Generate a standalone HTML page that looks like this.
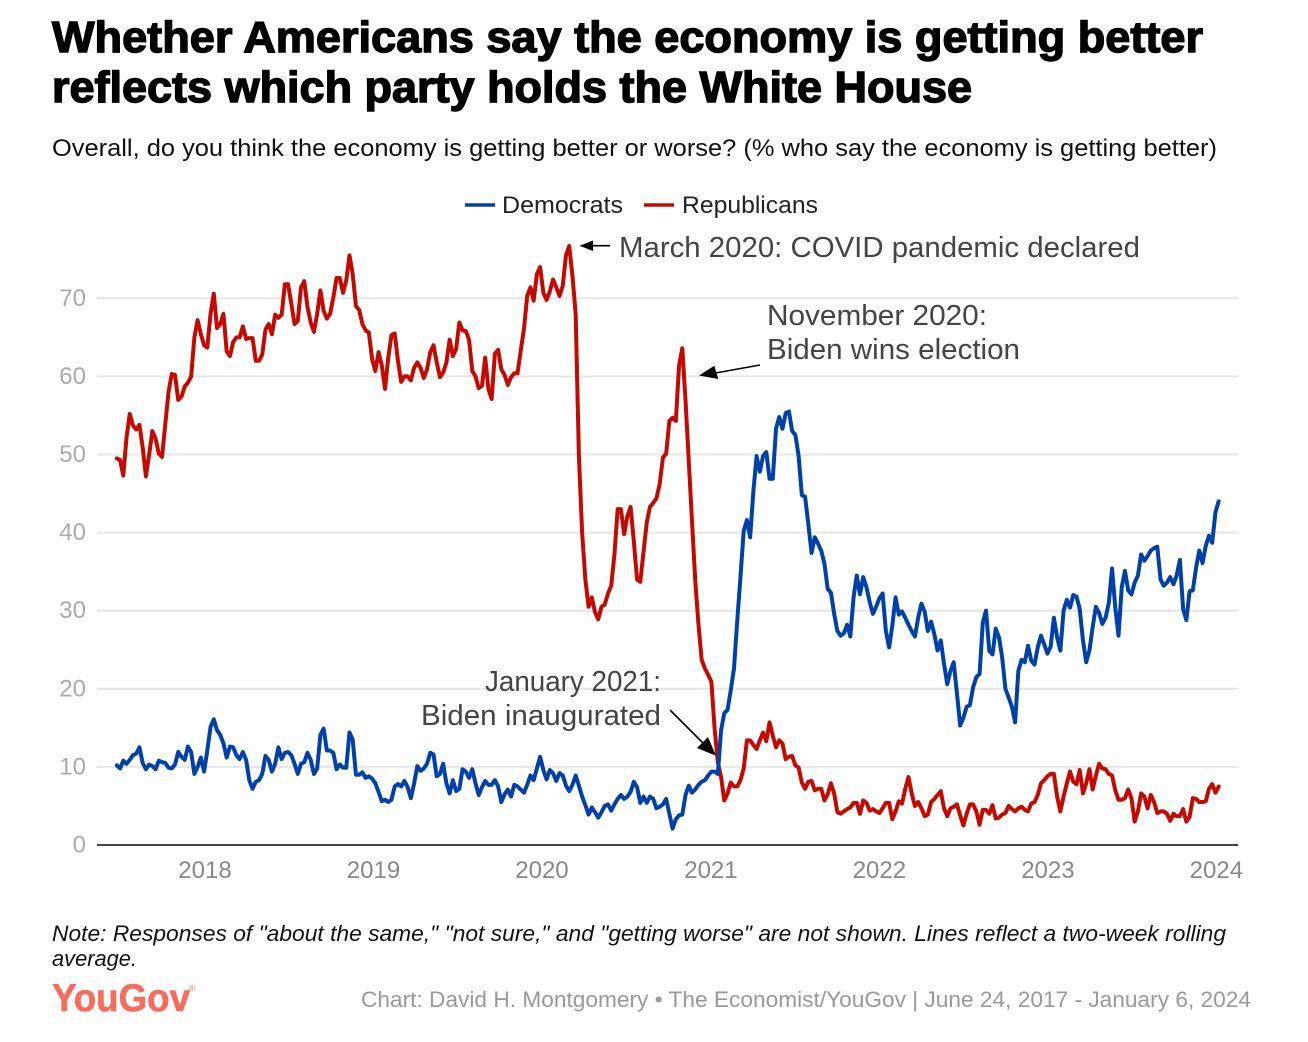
<!DOCTYPE html>
<html lang="en">
<head>
<meta charset="utf-8">
<title>Whether Americans say the economy is getting better</title>
<style>
html,body{margin:0;padding:0;background:#fff;width:1308px;height:1042px;overflow:hidden}
svg{display:block}
text{font-family:"Liberation Sans",Arial,sans-serif}
</style>
</head>
<body>
<svg id="chart" xmlns="http://www.w3.org/2000/svg" width="1308" height="1042" viewBox="0 0 1308 1042">
  <rect width="1308" height="1042" fill="#fff"/>
  <text x="52" y="52" font-size="44" font-weight="700" fill="#000" stroke="#000" stroke-width="1.4" textLength="1151" lengthAdjust="spacingAndGlyphs">Whether Americans say the economy is getting better</text>
  <text x="52" y="102" font-size="44" font-weight="700" fill="#000" stroke="#000" stroke-width="1.4" textLength="920" lengthAdjust="spacingAndGlyphs">reflects which party holds the White House</text>
  <text x="52" y="156" font-size="24" fill="#111" textLength="1165" lengthAdjust="spacingAndGlyphs">Overall, do you think the economy is getting better or worse? (% who say the economy is getting better)</text>

  <g>
    <line x1="465" y1="205" x2="495" y2="205" stroke="#0041a8" stroke-width="3.5"/>
    <text x="502" y="213" font-size="24" fill="#222" textLength="121" lengthAdjust="spacingAndGlyphs">Democrats</text>
    <line x1="644" y1="205" x2="674" y2="205" stroke="#c40a00" stroke-width="3.5"/>
    <text x="682" y="213" font-size="24" fill="#222" textLength="136" lengthAdjust="spacingAndGlyphs">Republicans</text>
  </g>

  <g id="grid"></g>
  <g id="yLabels"></g>
  <g id="xLabels"></g>
  <line x1="97" y1="845" x2="1238" y2="845" stroke="#444" stroke-width="2"/>
  <path id="repLine" fill="none" stroke="#c40a00" stroke-width="4" stroke-linejoin="round" stroke-linecap="round"/>
  <path id="demLine" fill="none" stroke="#0041a8" stroke-width="4" stroke-linejoin="round" stroke-linecap="round"/>

  <g>
    <line x1="610" y1="245.7" x2="590" y2="245.7" stroke="#000" stroke-width="1.6"/>
    <polygon points="579.5,245.7 593,240.5 593,251" fill="#000"/>
    <text x="619" y="257" font-size="29" fill="#444" textLength="521" lengthAdjust="spacingAndGlyphs">March 2020: COVID pandemic declared</text>
  </g>
  <g>
    <line x1="760" y1="365" x2="712" y2="373.6" stroke="#000" stroke-width="1.6"/>
    <polygon points="699,375.5 714.3,365.7 718.3,379" fill="#000"/>
    <text x="767" y="325" font-size="29" fill="#444" textLength="220" lengthAdjust="spacingAndGlyphs">November 2020:</text>
    <text x="767" y="359" font-size="29" fill="#444" textLength="253" lengthAdjust="spacingAndGlyphs">Biden wins election</text>
  </g>
  <g>
    <line x1="670" y1="710" x2="706" y2="746" stroke="#000" stroke-width="1.6"/>
    <polygon points="716,755.7 697,748 708,737" fill="#000"/>
    <text x="485" y="691" font-size="29" fill="#444" textLength="176" lengthAdjust="spacingAndGlyphs">January 2021:</text>
    <text x="421" y="725" font-size="29" fill="#444" textLength="240" lengthAdjust="spacingAndGlyphs">Biden inaugurated</text>
  </g>

  <text x="52" y="941" font-size="22" font-style="italic" fill="#111" textLength="1174" lengthAdjust="spacingAndGlyphs">Note: Responses of "about the same," "not sure," and "getting worse" are not shown. Lines reflect a two-week rolling</text>
  <text x="52" y="966" font-size="22" font-style="italic" fill="#111" textLength="85" lengthAdjust="spacingAndGlyphs">average.</text>
  <text x="52" y="1011" font-size="39" font-weight="700" fill="#f96b5d" stroke="#f96b5d" stroke-width="0.6" textLength="138" lengthAdjust="spacingAndGlyphs">YouGov</text>
  <text x="189" y="991" font-size="8" fill="#f96b5d">®</text>
  <text x="361" y="1007" font-size="22" fill="#999" textLength="890" lengthAdjust="spacingAndGlyphs">Chart: David H. Montgomery • The Economist/YouGov | June 24, 2017 - January 6, 2024</text>
</svg>
<script>
var startDate = "2017-06-24";
var weekStep = 7;
var yTicks = [0, 10, 20, 30, 40, 50, 60, 70];
var xTicks = [2018, 2019, 2020, 2021, 2022, 2023, 2024];
var repValues = [
49.5,49.3,47.3,52.2,55.2,53.7,53.2,53.8,50.9,47.2,
50,53,52,50.1,49.7,53.9,58,60.3,60.2,57,
57.4,58.7,59.2,60,65,67.2,65.4,64,63.7,68,
70.6,66.2,66.7,68,63.2,62.6,64.4,65,65,66.4,
64.8,64.9,64.9,62,62,62.8,66,66.7,65.4,67.9,
67.5,67.9,71.8,71.8,69.3,66.7,67.1,71.4,72.2,68.9,
66.9,65.7,68,71,68.4,67.4,68,70.1,72.6,72.6,
70.7,72.3,75.5,73.1,69,68.5,66.7,65.9,65.6,62.2,
60.7,63.1,61.4,58.4,62.4,
65.3,65.5,62,59.3,60,60,59.5,61.1,61.8,61.1,
59.8,60.9,63.1,64,61.8,59.9,60.5,61.8,64.7,62.6,
63.5,66.9,65.9,65.8,64.7,60.7,60,58.5,58.8,62.4,
58.4,57.1,62.9,63.4,60.9,60.2,58.9,59.9,60.4,60.4,
63.3,66.1,70.3,71.4,69.7,73.1,74,70.7,69.8,70.9,
72.4,71.4,70.3,71.6,75.5,76.7,72.9,68,
49.8,40,34,30.5,31.7,29.8,28.9,30.5,30.8,32.2,33.2,
37.2,43,43,39.8,42.1,43.3,38.9,34,33.7,37.5,
41.3,43.3,43.8,44.4,46.2,49.6,50.1,54.3,54.7,54.3,
61.4,63.6,56.9,49.2,41.5,33.9,28.3,23.7,22.6,21.8,
20.9,14.9,10.6,8.7,5.7,
6.6,8,7.5,7.5,8.3,9.8,13.4,13.4,12.8,12.3,
13.4,14.4,13.3,15.7,14,12.5,13.4,13,11,11.3,
11.4,10.2,9.9,8,7.2,8.1,8.2,7,7.2,7.2,
5.7,6.5,7.9,6.6,4.2,4,4.3,4.6,4.8,5.4,
5.4,4,5.7,5.4,4.4,4.6,4.3,4.1,4.7,5.4,
5.4,3.3,4.3,5.6,5.3,7.2,8.7,6.6,5,5.5,
4.7,3.7,3.9,5.5,5.9,6.4,6.9,4.7,3.7,4.7,
4.9,5.2,3.8,2.5,4,5.2,5.2,4.3,2.6,
4.5,4.5,4,5.1,3.4,3.5,3.9,4.1,5,4.6,
4.3,4.7,4.9,4.5,4.3,5.3,5.5,6.4,7.9,8.3,
8.8,9.1,9.1,6.2,4.3,6.2,7.9,9.4,8.1,7.8,
9.6,6.6,7.9,9.7,7.1,8.9,10.4,9.8,9.7,9.1,
8.9,7,5.8,5.8,6,7.1,6,3,4.3,6.6,
6.2,4.7,6.4,5.5,4.1,4.3,4.3,4,3.1,4,
3.7,3.7,4.6,3,3.6,6,5.9,5.5,5.5,5.6,
7.2,7.8,6.7,7.5
];
var demValues = [
10.2,9.8,10.8,10.4,10.9,11.5,11.7,12.5,10.5,9.7,
10.3,10.1,9.7,10.8,10.6,10.5,9.9,9.8,10.3,11.9,
11.3,10.9,12.6,11.9,9.1,10,11.2,9.4,12.1,15.1,
16.1,14.7,14.1,13,11.2,12.6,12.5,11.5,11,11.9,
10.9,8.3,7.2,8.1,8.3,9.1,11.4,10.9,9.4,10.4,
12.5,11,11.8,11.9,11.5,10.4,9.1,10.4,10.6,11.8,
10.9,9.1,9.8,14.1,14.9,12.1,12.1,11.8,9.7,10.3,
9.9,9.9,14.4,13.5,9,9,9.3,8.6,8.8,8.5,
7.9,6.8,5.6,5.8,5.5,5.8,7.5,7.8,7.5,8.2,
7.4,6,7.9,10.1,9.5,9.8,10.4,11.8,11.6,8.8,
9.1,10.4,7.9,6.6,8.3,6.9,7.2,9.7,9.4,8.6,
9.7,7.9,6.4,7.4,8.2,7.7,7.7,8.3,7.5,5.5,
6.5,7.1,6.2,7.7,7.5,7.1,6.7,7.7,8.9,8.3,
9.8,11.3,9.6,8.4,9.6,9.2,8.2,9.2,8.9,7.6,
6.9,7.7,8.9,7.6,6.2,5.1,3.9,4.8,4.2,3.5,
4.2,5,5.2,4.4,5.2,5.9,6.4,5.9,6.2,6.8,
8.1,7.4,5.4,6.2,5.4,6.2,5.9,4.7,4.9,5.2,
5.9,4,2.1,3.3,3.8,3.9,6.4,7.6,6.7,7.1,
7.7,8.1,8.3,8.9,9.4,9.4,9.1,14.7,16.9,17.3,
19.8,22.6,28.7,34.3,40.2,41.6,39.4,45.3,49.8,47.8,
49.8,50.3,46.9,46.9,53.3,54.8,53.3,55.3,55.5,53,
52.5,49.8,44.8,44.6,41.1,37.4,39.4,38.6,37.7,36,
32.8,32.3,29.6,27.4,26.8,27.1,28.2,26.7,31.7,34.5,
32.1,34.3,33,31.1,29.6,30.5,31.6,32.2,27.4,25.3,
28.1,31.7,29.5,29.9,29.1,28.2,27.4,26.7,29.1,30.9,
29.9,27.4,28.6,27,24.9,26.2,23.2,20.6,22.3,23.4,
19.4,15.3,16.3,17.7,17.9,20.2,21.5,21.9,28.5,30,
24.9,24.4,27.7,26.6,24,20,18.9,17.7,15.7,22.3,
23.7,23.4,25.5,23.6,23.1,25.3,26.8,25.7,24.5,25.4,
29.1,26.6,24.9,30,31.4,30.4,32,31.8,30.2,26.2,
23.4,24.9,27.9,30.5,29.7,28.3,29.1,31,35.4,30.4,
26.8,33,35.1,32.6,32.1,33.6,34.5,37.2,36.4,37,
37.7,38,38.2,34,33.2,33.6,34.3,33.4,34.5,36.5,
30.2,28.8,32.5,32.6,35.5,37.7,36.1,38.3,39.6,38.7,
42.6,44
];

var SVGNS = "http://www.w3.org/2000/svg";
var MS_PER_DAY = 86400000;

function yScale(v) {
  return 845 - v * 7.81;
}
function xScale(ms) {
  var origin = Date.UTC(2018, 0, 1);
  return 205 + (ms - origin) / (365.25 * MS_PER_DAY) * 168.6;
}
function weekToMs(i) {
  return Date.parse(startDate + "T00:00:00Z") + i * weekStep * MS_PER_DAY;
}
function linePath(values) {
  var d = "";
  for (var i = 0; i < values.length; i++) {
    d += (i ? "L" : "M") + xScale(weekToMs(i)).toFixed(2) + " " + yScale(values[i]).toFixed(2);
  }
  return d;
}

document.getElementById("repLine").setAttribute("d", linePath(repValues));
document.getElementById("demLine").setAttribute("d", linePath(demValues));

var gridGroup = document.getElementById("grid");
var yGroup = document.getElementById("yLabels");
yTicks.forEach(function (t) {
  if (t > 0) {
    var ln = document.createElementNS(SVGNS, "line");
    
    
    ln.setAttribute("x1", 97);
    ln.setAttribute("x2", 1238);
    ln.setAttribute("y1", yScale(t));
    ln.setAttribute("y2", yScale(t));
    ln.setAttribute("stroke", "#e6e6e6");
    ln.setAttribute("stroke-width", 2);
    gridGroup.appendChild(ln);
  }
  var lab = document.createElementNS(SVGNS, "text");
  
  
  lab.setAttribute("x", 86);
  lab.setAttribute("y", yScale(t) + 7.5);
  lab.setAttribute("text-anchor", "end");
  lab.setAttribute("font-size", 24);
  lab.setAttribute("fill", "#aaa");
  lab.textContent = t;
  yGroup.appendChild(lab);
});

var xGroup = document.getElementById("xLabels");
xTicks.forEach(function (year) {
  var lab = document.createElementNS(SVGNS, "text");
  
  
  lab.setAttribute("x", xScale(Date.UTC(year, 0, 1)));
  lab.setAttribute("y", 878);
  lab.setAttribute("text-anchor", "middle");
  lab.setAttribute("font-size", 24);
  lab.setAttribute("fill", "#888");
  lab.textContent = year;
  xGroup.appendChild(lab);
});
</script>
</body>
</html>
